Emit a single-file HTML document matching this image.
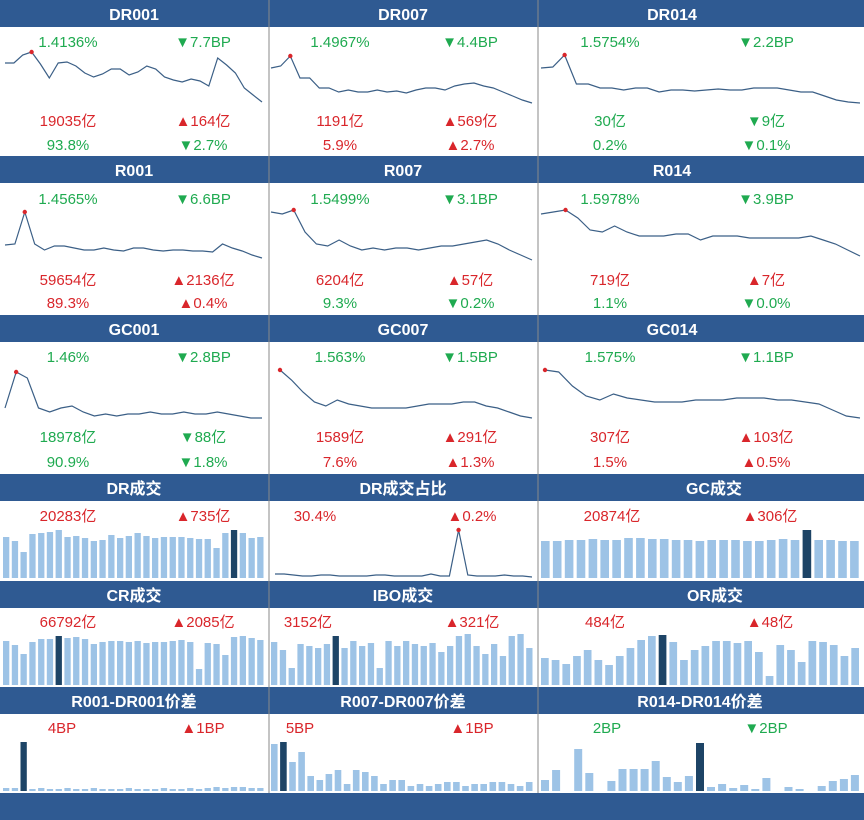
<!DOCTYPE html>
<html><head><meta charset="utf-8"><style>
html,body{margin:0;padding:0;background:#fff;}
svg{display:block;font-family:"Liberation Sans","Noto Sans CJK SC",sans-serif;}
</style></head><body>
<svg id="dash" width="864" height="820" viewBox="0 0 864 820" xmlns="http://www.w3.org/2000/svg"></svg>
<script>
// ---- data (line series: level above panel floor) ----
const DR001 = [47,47,55,58,46,32,47,48,44,37,33,36,41,41,35,38,44,41,33,30,28,31,29,24,52,45,37,22,15,8];
const DR007 = [42,44,54,32,32,22,22,18,20,18,18,20,18,19,17,20,22,22,20,24,26,27,24,22,18,14,10,7];
const DR014 = [42,43,55,26,26,22,22,20,22,22,18,20,20,19,20,21,20,20,22,22,22,20,18,18,14,10,8,7];
const R001 = [20,21,53,21,15,19,19,17,15,15,17,15,14,17,17,15,14,15,15,14,14,13,21,17,14,10,7];
const R007 = [53,51,55,33,21,19,25,19,15,17,15,17,17,15,17,19,19,21,23,25,21,15,10,5];
const R014 = [51,53,55,47,35,33,39,33,29,29,29,31,31,25,29,29,29,27,27,27,27,27,29,25,21,15,9];
const GC001 = [17,53,47,17,13,17,19,13,9,11,9,11,11,13,11,11,13,11,11,13,11,9,7,7];
const GC007 = [55,45,33,23,19,25,21,19,17,17,17,17,19,21,21,21,23,23,19,17,13,9,7];
const GC014 = [55,53,39,29,25,31,27,25,23,23,23,25,25,25,27,27,27,25,25,23,21,15,9,7];
const DR_RATIO = [6,6,5,4,4,5,5,4,4,4,4,5,5,4,4,4,4,6,4,4,50,5,4,4,4,5,4,4,3];
// ---- bar series ----
const DR_VOL = [41,37,26,44,45,46,48,41,42,40,37,38,43,40,42,45,42,40,41,41,41,40,39,39,30,45,48,45,40,41];
const GC_VOL = [37,37,38,38,39,38,38,40,40,39,39,38,38,37,38,38,38,37,37,38,39,38,48,38,38,37,37];
const CR_VOL = [44,40,31,43,46,46,49,47,48,46,41,43,44,44,43,44,42,43,43,44,45,43,16,42,41,30,48,49,47,45];
const IBO_VOL = [43,35,17,41,39,37,41,49,37,44,39,42,17,44,39,44,41,39,42,33,39,49,51,39,31,41,29,49,51,37];
const OR_VOL = [27,25,21,29,35,25,20,29,37,45,49,50,43,25,35,39,44,44,42,44,33,9,40,35,23,44,43,40,29,37];
const SP001 = [3,3,49,2,3,2,2,3,2,2,3,2,2,2,3,2,2,2,3,2,2,3,2,3,4,3,4,4,3,3];
const SP007 = [47,49,29,39,15,11,17,21,7,21,19,15,7,11,11,5,7,5,7,9,9,5,7,7,9,9,7,5,9];
const SP014 = [11,21,0,42,18,0,10,22,22,22,30,14,9,15,48,4,7,3,6,2,13,0,4,2,0,5,10,12,16];
// ---- labels ----
const TITLES = ["DR001","DR007","DR014","R001","R007","R014","GC001","GC007","GC014","DR成交","DR成交占比","GC成交","CR成交","IBO成交","OR成交","R001-DR001价差","R007-DR007价差","R014-DR014价差"];
const RATE_TXT = [["1.4136%","▼7.7BP"],["1.4967%","▼4.4BP"],["1.5754%","▼2.2BP"],["1.4565%","▼6.6BP"],["1.5499%","▼3.1BP"],["1.5978%","▼3.9BP"],["1.46%","▼2.8BP"],["1.563%","▼1.5BP"],["1.575%","▼1.1BP"]];
const VOL_TXT = [["19035亿","▲164亿"],["1191亿","▲569亿"],["30亿","▼9亿"],["59654亿","▲2136亿"],["6204亿","▲57亿"],["719亿","▲7亿"],["18978亿","▼88亿"],["1589亿","▲291亿"],["307亿","▲103亿"]];
const SHARE_TXT = [["93.8%","▼2.7%"],["5.9%","▲2.7%"],["0.2%","▼0.1%"],["89.3%","▲0.4%"],["9.3%","▼0.2%"],["1.1%","▼0.0%"],["90.9%","▼1.8%"],["7.6%","▲1.3%"],["1.5%","▲0.5%"]];
const LOWER_TXT = [["20283亿","▲735亿"],["30.4%","▲0.2%"],["20874亿","▲306亿"],["66792亿","▲2085亿"],["3152亿","▲321亿"],["484亿","▲48亿"],["4BP","▲1BP"],["5BP","▲1BP"],["2BP","▼2BP"]];

const NS="http://www.w3.org/2000/svg";
const svg=document.getElementById('dash');
function mk(tag,attrs,parent){const e=document.createElementNS(NS,tag);for(const k in attrs)e.setAttribute(k,attrs[k]);(parent||svg).appendChild(e);return e;}
const GREEN="#1faa50",RED="#d9262b",HEAD="#2f5a92",LIGHT="#9dc3e6",DARK="#1d4466",LINE="#3b5f86";
const colX=[[0,269],[269,538],[538,864]];
const headTops=[0,156,315,474,581,687];
const titleCx=[[134,403,672],[134,403,672],[134,403,672],[134,403,714],[134,403,715],[134,403,700]];
const txtX=[[68,203],[340,470],[610,766]];
const lowTxtX=[[[68,203],[315,472],[612,770]],[[68,203],[308,472],[605,770]],[[62,203],[300,472],[607,766]]];
function colorOf(s,i){if(s.indexOf('▲')>=0)return RED;if(s.indexOf('▼')>=0)return GREEN;return i;}
function txt(s,x,y,c,name){const t=mk('text',{x:x,y:y,'text-anchor':'middle','font-size':15,fill:c});t.textContent=s;

return t;}

// headers
for(let r=0;r<6;r++){for(let c=0;c<3;c++){const g=mk('g',{});


mk('rect',{x:colX[c][0],y:headTops[r],width:colX[c][1]-colX[c][0],height:27,fill:HEAD},g);
const t=mk('text',{x:titleCx[r][c],y:headTops[r]+20,'text-anchor':'middle','font-size':16,'font-weight':'bold',fill:'#fff'},g);t.textContent=TITLES[r*3+c];}}
mk('rect',{x:0,y:793,width:864,height:27,fill:HEAD});
// separators
[269,538].forEach(x=>{const l=mk('line',{x1:x,y1:0,x2:x,y2:793,stroke:'#8a8a8a','stroke-width':1});

});

function linePanel(data,x0,x1,base,dot,name){const step=(x1-x0)/(data.length-1);
const xs=i=>x0+i*step, ys=v=>base-v;
const p=mk('polyline',{points:data.map((v,i)=>xs(i).toFixed(1)+','+ys(v).toFixed(1)).join(' '),fill:'none',stroke:LINE,'stroke-width':1.2});


const d=mk('circle',{cx:xs(dot),cy:ys(data[dot]),r:2.2,fill:'#d9262b'});

}
function barPanel(data,x0,x1,base,name,dark){let di=dark;if(di===undefined){di=data.indexOf(Math.max(...data));}
const step=(x1-x0)/data.length,w=step*0.72,ys=v=>base-v;
data.forEach((v,i)=>{if(v<=0)return;const b=mk('rect',{x:(x0+i*step).toFixed(1),y:ys(v).toFixed(1),width:w.toFixed(1),height:v,fill:i===di?DARK:LIGHT});

});}

const lineSeries=[DR001,DR007,DR014,R001,R007,R014,GC001,GC007,GC014];
const lineDots=[3,2,2,2,2,2,1,0,0];
const lineRanges=[[5,262],[271,532],[541,860],[5,262],[271,532],[541,860],[5,262],[280,532],[545,860]];
const lineBase=[110,265,425];
const rowTxtY=[[47,126,150],[204,285,308],[362,442,467]];
for(let k=0;k<9;k++){const r=Math.floor(k/3),c=k%3,nm=TITLES[k].toLowerCase();
linePanel(lineSeries[k],lineRanges[k][0],lineRanges[k][1],lineBase[r],lineDots[k],nm);
txt(RATE_TXT[k][0],txtX[c][0],rowTxtY[r][0],GREEN,nm+'-rate');
txt(RATE_TXT[k][1],txtX[c][1],rowTxtY[r][0],colorOf(RATE_TXT[k][1],GREEN),nm+'-rate-change');
const vc=VOL_TXT[k][1].indexOf('▲')>=0?RED:GREEN;
txt(VOL_TXT[k][0],txtX[c][0],rowTxtY[r][1],vc,nm+'-volume');
txt(VOL_TXT[k][1],txtX[c][1],rowTxtY[r][1],vc,nm+'-volume-change');
const sc=SHARE_TXT[k][1].indexOf('▲')>=0?RED:GREEN;
txt(SHARE_TXT[k][0],txtX[c][0],rowTxtY[r][2],sc,nm+'-share');
txt(SHARE_TXT[k][1],txtX[c][1],rowTxtY[r][2],sc,nm+'-share-change');}

// lower rows
barPanel(DR_VOL,3,266,578,'dr-volume',26);
linePanel(DR_RATIO,275,532,580,20,'dr-share');
barPanel(GC_VOL,541,862,578,'gc-volume',22);
barPanel(CR_VOL,3,266,685,'cr-volume',6);
barPanel(IBO_VOL,271,535,685,'ibo-volume',7);
barPanel(OR_VOL,541,862,685,'or-volume',11);
barPanel(SP001,3,266,791,'spread-001',2);
barPanel(SP007,271,535,791,'spread-007',1);
barPanel(SP014,541,862,791,'spread-014',14);
const lowY=[521,627,733];
for(let k=0;k<9;k++){const r=Math.floor(k/3),c=k%3;const s=LOWER_TXT[k];
const col=s[1].indexOf('▲')>=0?RED:GREEN;
txt(s[0],lowTxtX[r][c][0],lowY[r],col,'summary-value-'+k);
txt(s[1],lowTxtX[r][c][1],lowY[r],col,'summary-change-'+k);}
</script>
</body></html>
